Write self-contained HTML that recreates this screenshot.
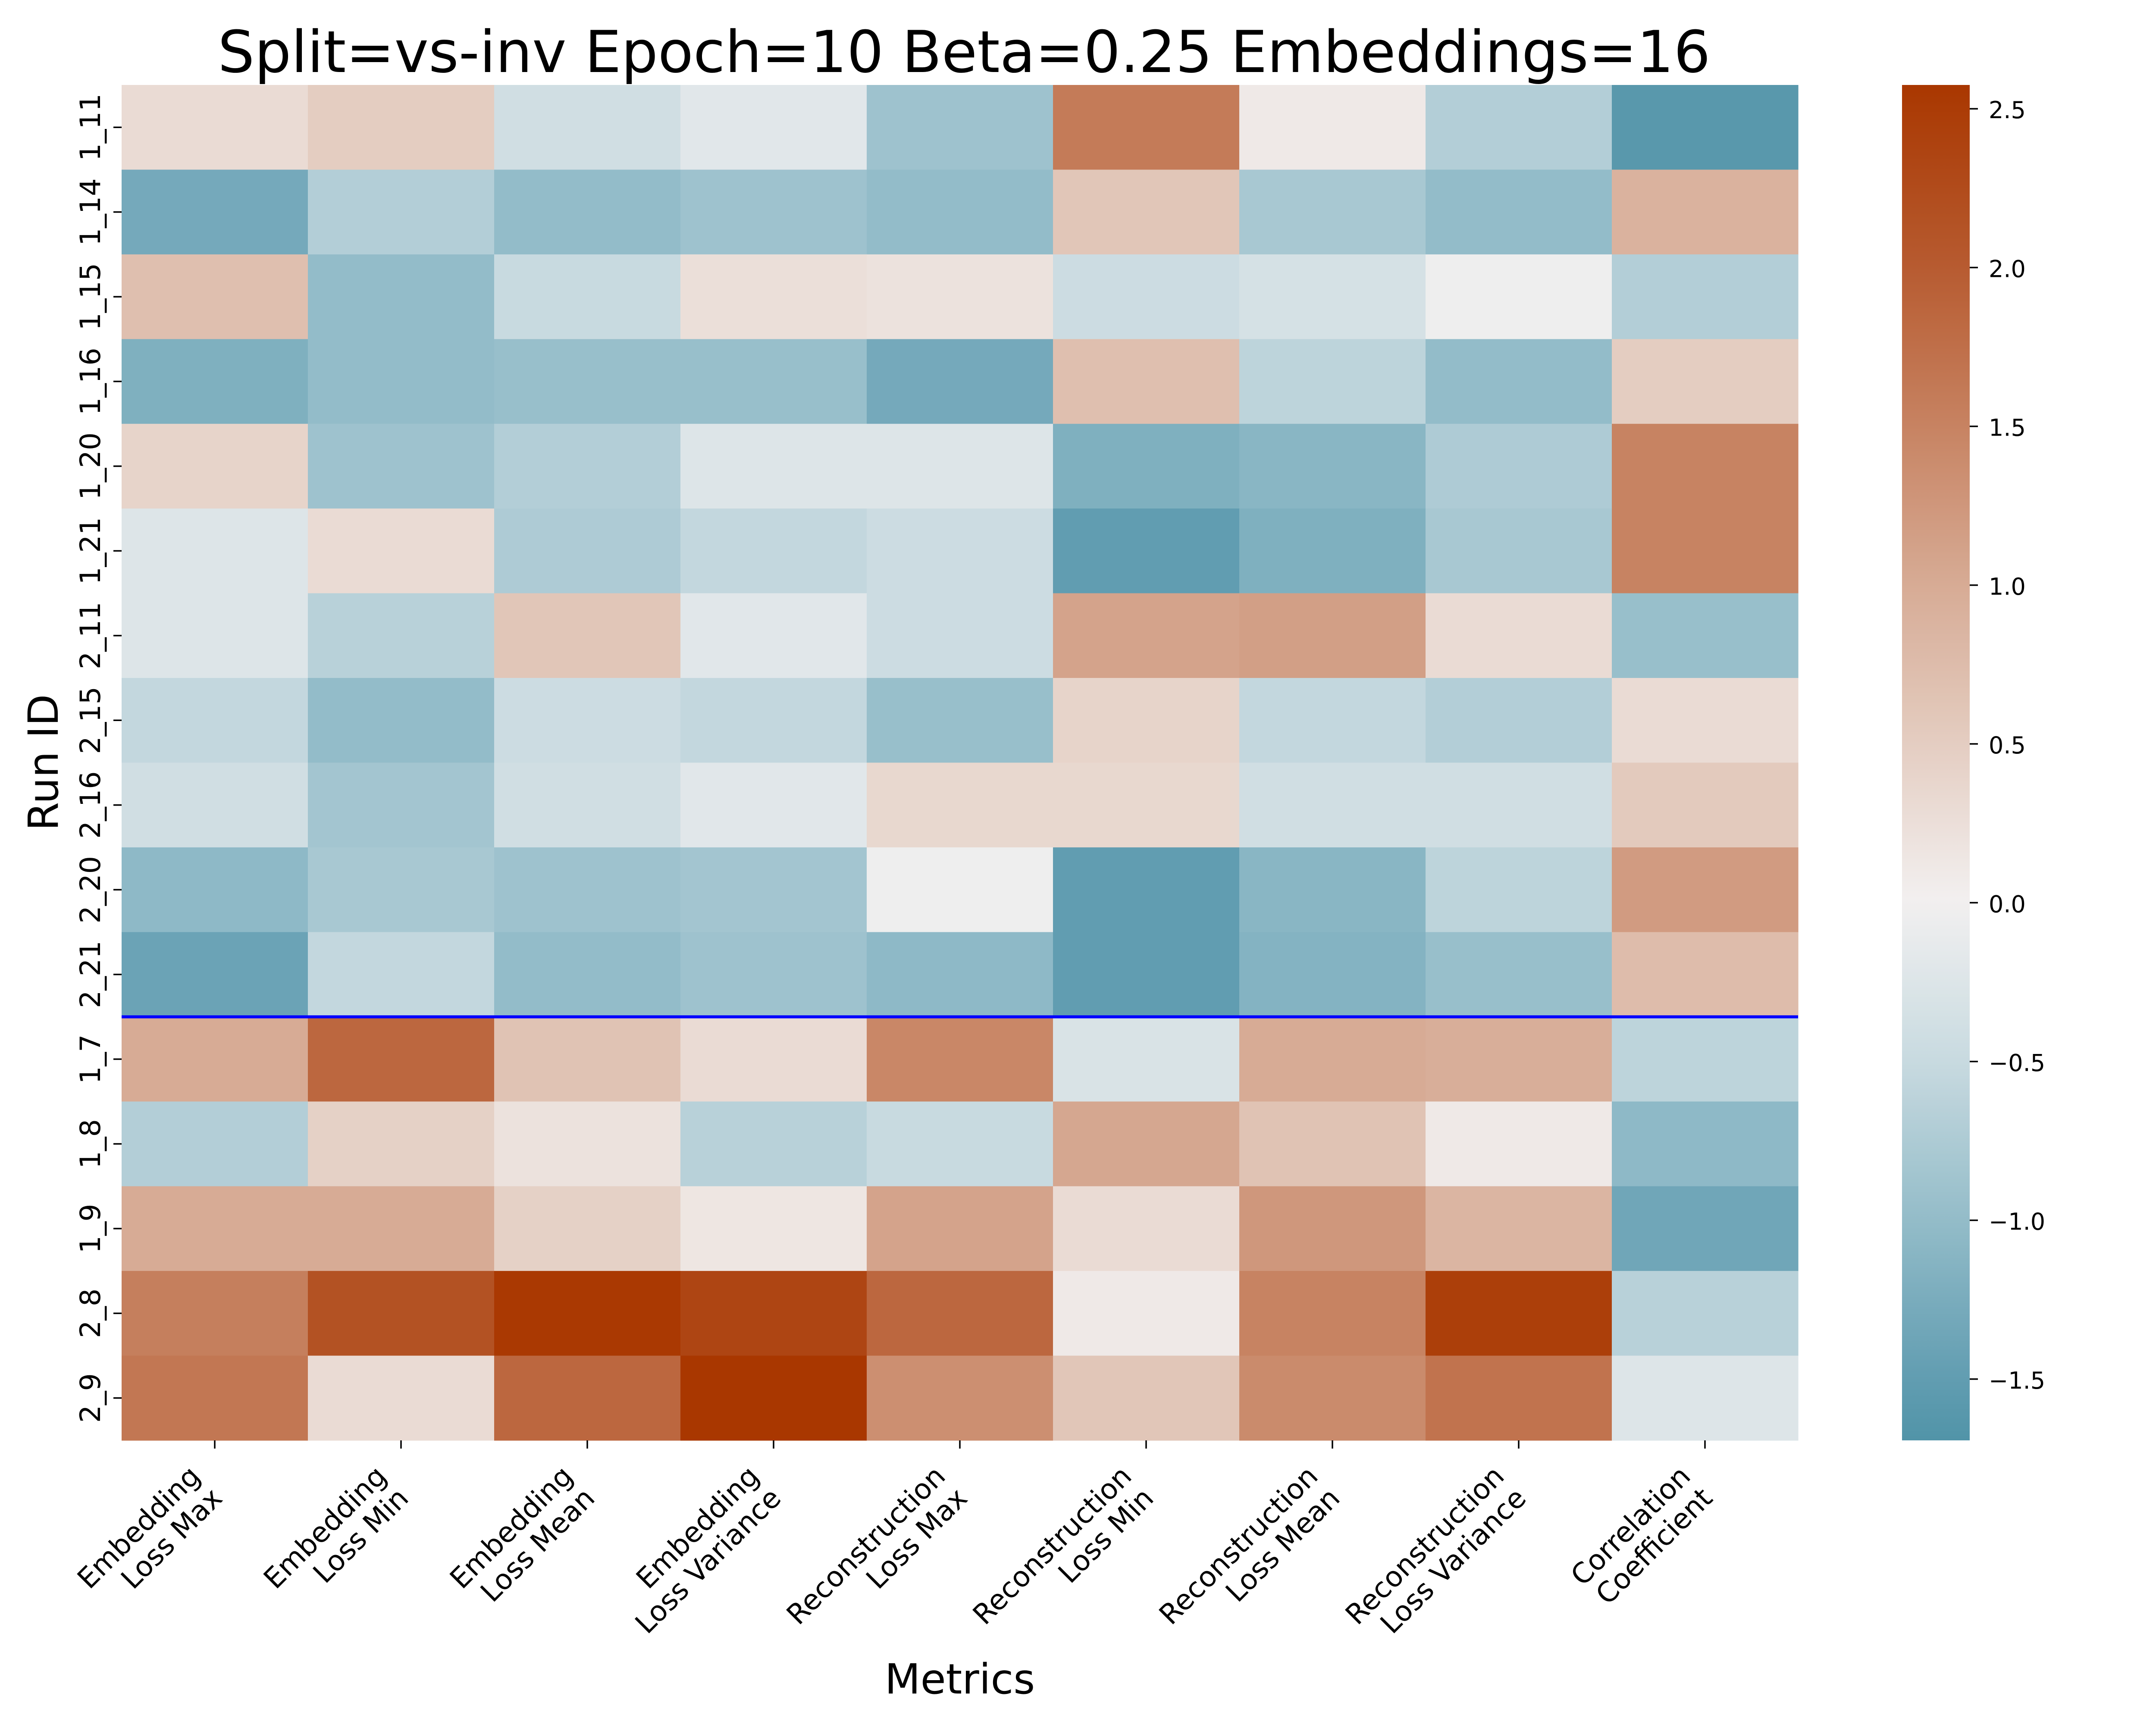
<!DOCTYPE html>
<html><head><meta charset="utf-8"><style>
html,body{margin:0;padding:0;background:#fff;}
svg{display:block;font-family:"DejaVu Sans","Liberation Sans",sans-serif;}
</style></head><body>
<svg id="chart" xmlns="http://www.w3.org/2000/svg" width="5200" height="4000" viewBox="0 0 5200 4000">
<rect x="0" y="0" width="5200" height="4000" fill="#fff"/>
<text x="2236" y="167" font-size="134" text-anchor="middle">Split=vs-inv Epoch=10 Beta=0.25 Embeddings=16</text>
<g id="cells"></g>
<g id="yaxis"></g>
<g id="xaxis"></g>
<g id="cbar"></g>
<text x="134" y="1768" font-size="96" text-anchor="middle" transform="rotate(-90 134 1768)">Run ID</text>
<text x="2226" y="3927" font-size="96" text-anchor="middle">Metrics</text>
</svg>
<script>
const rowLabels = ["1_11","1_14","1_15","1_16","1_20","1_21","2_11","2_15","2_16","2_20","2_21","1_7","1_8","1_9","2_8","2_9"];
const colLine1 = ["Embedding","Embedding","Embedding","Embedding","Reconstruction","Reconstruction","Reconstruction","Reconstruction","Correlation"];
const colLine2 = ["Loss Max","Loss Min","Loss Mean","Loss Variance","Loss Max","Loss Min","Loss Mean","Loss Variance","Coefficient"];
const values = [
 [0.3,0.5,-0.4,-0.2,-0.9,1.6,0.1,-0.7,-1.6],
 [-1.3,-0.7,-1.0,-0.9,-1.0,0.6,-0.8,-1.0,0.9],
 [0.7,-1.0,-0.5,0.25,0.2,-0.45,-0.35,-0.05,-0.7],
 [-1.2,-1.0,-0.95,-0.95,-1.3,0.7,-0.6,-1.0,0.5],
 [0.4,-0.9,-0.7,-0.25,-0.25,-1.2,-1.1,-0.75,1.5],
 [-0.25,0.3,-0.75,-0.55,-0.45,-1.5,-1.2,-0.8,1.5],
 [-0.25,-0.65,0.6,-0.2,-0.45,1.1,1.15,0.3,-0.95],
 [-0.55,-1.0,-0.45,-0.55,-0.95,0.4,-0.55,-0.7,0.3],
 [-0.4,-0.85,-0.4,-0.2,0.35,0.35,-0.4,-0.4,0.55],
 [-1.05,-0.8,-0.9,-0.85,-0.05,-1.5,-1.1,-0.6,1.2],
 [-1.4,-0.55,-1.0,-0.9,-1.05,-1.5,-1.15,-0.95,0.75],
 [1.0,1.85,0.65,0.3,1.45,-0.3,1.0,0.95,-0.6],
 [-0.7,0.45,0.2,-0.65,-0.5,1.05,0.65,0.1,-1.05],
 [1.0,1.0,0.45,0.15,1.1,0.3,1.25,0.85,-1.35],
 [1.55,2.15,2.55,2.35,1.85,0.1,1.5,2.45,-0.65],
 [1.65,0.3,1.85,2.57,1.35,0.6,1.4,1.7,-0.25]
];
const cbarTicks = [2.5,2.0,1.5,1.0,0.5,0.0,-0.5,-1.0,-1.5];
const vMin = -1.693, vMax = 2.575;
const splitAfterRow = 11;

const NS = "http://www.w3.org/2000/svg";
const L = 282, R = 4170, T = 197, B = 3340;
const cw = (R - L) / colLine1.length, rh = (B - T) / rowLabels.length;
const xPos = i => L + i * cw;
const yPos = j => T + j * rh;
const stops = [[-1.693,[81,148,168]],[-1.5,[97,157,177]],[-1.0,[147,188,201]],[-0.5,[200,218,224]],[0,[242,240,240]],[0.5,[228,205,193]],[1.0,[215,171,149]],[1.5,[199,131,98]],[2.0,[183,91,48]],[2.575,[169,55,0]]];
function color(v){
  if (v <= stops[0][0]) return "rgb("+stops[0][1].join(",")+")";
  for (let k = 1; k < stops.length; k++){
    if (v <= stops[k][0]){
      const a = stops[k-1], b = stops[k], t = (v - a[0]) / (b[0] - a[0]);
      return "rgb(" + [0,1,2].map(c => Math.round(a[1][c] + t*(b[1][c]-a[1][c]))).join(",") + ")";
    }
  }
  return "rgb("+stops[stops.length-1][1].join(",")+")";
}
function mk(tag, attrs, parent){
  const e = document.createElementNS(NS, tag);
  for (const k in attrs) e.setAttribute(k, attrs[k]);
  parent.appendChild(e);
  return e;
}
const cells = document.getElementById("cells");
values.forEach((row, j) => row.forEach((v, i) => {
  const r = mk("rect", {x: xPos(i), y: yPos(j), width: cw + 0.6, height: rh + 0.6, fill: color(v)}, cells);
  
  
}));
const sep = mk("line", {x1: L, x2: R, y1: yPos(splitAfterRow), y2: yPos(splitAfterRow), stroke: "#0000ff", "stroke-width": 7}, cells);



const yax = document.getElementById("yaxis");
rowLabels.forEach((lab, j) => {
  const cy = yPos(j) + rh / 2;
  const tk = mk("line", {x1: L - 19, x2: L, y1: cy, y2: cy, stroke: "#000", "stroke-width": 3.5}, yax);
  
  
  const t = mk("text", {x: 232, y: cy, "font-size": 65, "text-anchor": "middle", transform: "rotate(-90 232 " + cy + ")"}, yax);
  t.textContent = lab;
  
  
});

const xax = document.getElementById("xaxis");
colLine1.forEach((l1, i) => {
  const cx = xPos(i) + cw / 2;
  const tk = mk("line", {x1: cx, x2: cx, y1: B, y2: B + 19, stroke: "#000", "stroke-width": 3.5}, xax);
  
  
  const ax = cx - 30, ay = 3427;
  const g = mk("g", {transform: "translate(" + ax + " " + ay + ") rotate(-45)"}, xax);
  
  
  const t1 = mk("text", {x: 0, y: 0, "font-size": 65, "text-anchor": "end"}, g);
  t1.textContent = l1;
  
  
  const t2 = mk("text", {x: 0, y: 72, "font-size": 65, "text-anchor": "end"}, g);
  t2.textContent = colLine2[i];
  
  
});

const cb = document.getElementById("cbar");
const CL = 4411, CR = 4568;
const cy = v => T + (vMax - v) / (vMax - vMin) * (B - T);
const defs = mk("defs", {}, cb);
const grad = mk("linearGradient", {id: "cg", x1: 0, y1: 0, x2: 0, y2: 1}, defs);
for (let k = 0; k <= 40; k++){
  const v = vMax - k / 40 * (vMax - vMin);
  mk("stop", {offset: (k / 40), "stop-color": color(v)}, grad);
}
const cbr = mk("rect", {x: CL, y: T, width: CR - CL, height: B - T, fill: "url(#cg)"}, cb);


cbarTicks.forEach(v => {
  const y = cy(v);
  const tk = mk("line", {x1: CR, x2: CR + 19, y1: y, y2: y, stroke: "#000", "stroke-width": 3.5}, cb);
  
  
  const t = mk("text", {x: 4612, y: y + 22, "font-size": 54}, cb);
  t.textContent = (v < 0 ? "\u2212" : "") + Math.abs(v).toFixed(1);
  
  
});
</script>
</body></html>
